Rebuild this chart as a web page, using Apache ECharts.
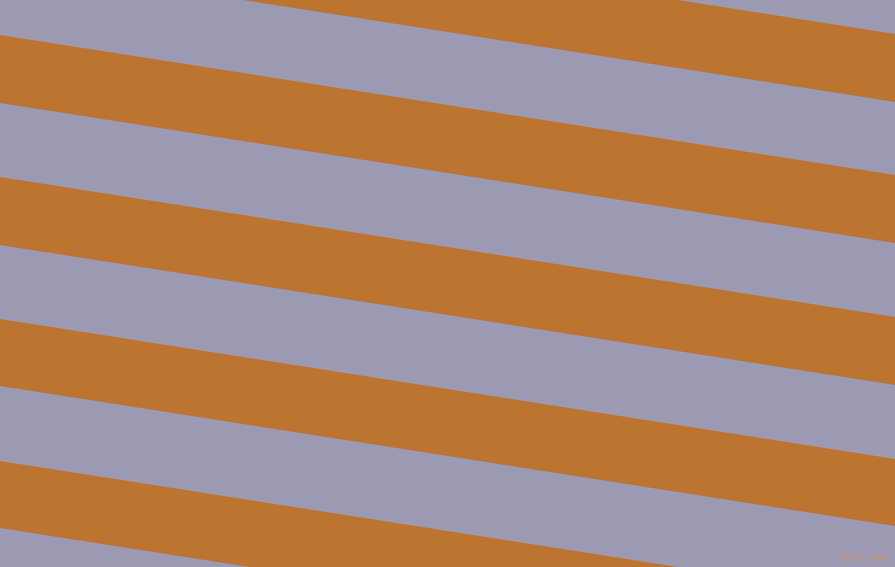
<!DOCTYPE html>
<html>
<head>
<meta charset="utf-8">
<script src="https://cdn.jsdelivr.net/npm/echarts@6/dist/echarts.min.js"></script>
<style>
  html, body { margin: 0; padding: 0; }
  #main { width: 895px; height: 567px; }
</style>
</head>
<body>
<div id="main"></div>
<script>
// Stripe edges (pixel rows at the left and right edge)
const xEdges = [0, 895];
const bandLeftTop = [-106, 35, 177, 319, 461];
const bandLeftBottom = [-38, 103, 245, 386, 528];
const bandRightTop = [34, 175, 317, 459, 601];
const bandRightBottom = [102, 243, 385, 526, 668];

const greyColor = '#9c9ab3';
const orangeColor = '#bc7431';

const bands = bandLeftTop.map((t, i) => [t, bandLeftBottom[i], bandRightTop[i], bandRightBottom[i]]);

const chart = echarts.init(document.getElementById('main'));

chart.setOption({
  animation: false,
  backgroundColor: greyColor,
  grid: { left: 0, right: 0, top: 0, bottom: 0 },
  xAxis: { type: 'value', min: xEdges[0], max: xEdges[1], show: false },
  yAxis: { type: 'value', min: 0, max: 567, inverse: true, show: false },
  graphic: [{
    type: 'text',
    right: 6,
    bottom: 4,
    style: { text: 'pixlis.com', fill: '#c49070', font: '10px "DejaVu Sans"' }
  }],
  series: [{
    type: 'custom',
    clip: true,
    data: bands,
    renderItem: (params, api) => {
      const p1 = api.coord([xEdges[0], api.value(0)]);
      const p2 = api.coord([xEdges[1], api.value(2)]);
      const p3 = api.coord([xEdges[1], api.value(3)]);
      const p4 = api.coord([xEdges[0], api.value(1)]);
      return {
        type: 'polygon',
        shape: { points: [p1, p2, p3, p4] },
        style: { fill: orangeColor }
      };
    }
  }]
});
</script>
</body>
</html>
